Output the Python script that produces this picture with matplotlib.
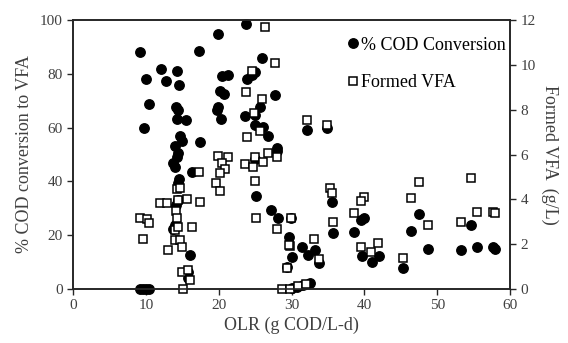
import numpy as np
import matplotlib
matplotlib.use('Agg')
from matplotlib import pyplot as plt

plt.rcParams['font.family'] = ['Liberation Serif', 'DejaVu Serif']

# % COD conversion to VFA (left axis)
olr_cod = [9.2, 17.3, 12.1, 14.3, 10.0, 12.8, 14.6, 10.4, 14.1, 14.4, 14.3, 15.5, 9.8, 14.7,
           15.0, 17.4, 14.0, 14.4, 14.3, 13.7, 14.0, 16.3, 14.6, 14.4, 14.4, 14.1, 13.7, 14.0,
           16.1, 15.8, 15.8, 9.2, 9.6, 10.0, 10.4,
           19.9, 23.8, 26.0, 20.5, 21.3, 23.9, 24.6, 25.0, 20.2, 20.7, 27.7, 19.9, 19.8, 20.3,
           23.6, 25.0, 25.7, 25.0, 26.1, 26.8, 28.0, 28.0, 25.0, 25.1, 27.2, 28.2, 29.9, 29.7,
           30.1, 29.4,
           32.1, 34.9, 35.6, 40.0, 39.6, 35.7, 38.6, 31.5, 32.3, 33.2, 33.8, 39.7, 41.1, 42.0,
           30.1, 30.8, 31.6, 32.6,
           45.3, 46.4, 47.5, 48.8, 53.3, 54.7, 55.5, 57.6, 58.0]
cod_conv = [88.1, 88.5, 81.8, 81.0, 78.1, 77.3, 75.8, 68.8, 67.7, 66.5, 63.2, 62.8, 59.9, 56.9,
            55.0, 54.6, 53.2, 50.6, 49.1, 46.8, 45.4, 43.5, 40.9, 39.4, 33.1, 31.2, 22.3, 23.8,
            12.6, 6.3, 4.1, 0, 0, 0, 0,
            94.8, 98.5, 85.9, 79.2, 79.6, 78.1, 79.6, 80.7, 73.6, 72.5, 72.1, 67.7, 66.5, 63.2,
            64.3, 64.7, 67.7, 61.0, 60.2, 56.9, 52.4, 51.3, 48.3, 34.6, 29.4, 26.4, 26.4, 19.3,
            11.9, 8.2,
            59.1, 59.9, 32.3, 26.4, 25.7, 20.8, 21.2, 15.6, 12.6, 14.5, 9.7, 12.3, 10.0, 12.3,
            0.4, 0.7, 1.5, 2.2,
            7.8, 21.6, 27.9, 14.9, 14.5, 23.8, 15.6, 15.6, 14.9]

# Formed VFA, g/L (right axis)
olr_vfa = [9.2, 10.2, 10.4, 9.6, 12.0, 12.9, 14.4, 15.7, 17.4, 14.3, 14.7, 17.3, 14.0, 14.4,
           16.3, 13.0, 14.0, 14.7, 15.0, 15.0, 15.8, 16.1, 15.1, 14.1, 14.3,
           19.9, 21.3, 20.5, 20.9, 20.2, 19.6, 20.2, 25.0, 26.8, 28.0, 26.1, 23.6, 24.7, 25.0,
           25.1, 28.0, 29.8, 29.4, 28.7, 26.4, 27.7, 24.6, 23.8, 26.0, 24.9, 23.9, 25.7,
           32.1, 34.9, 35.3, 35.6, 40.0, 39.6, 38.6, 35.7, 29.9, 29.7, 33.1, 41.9, 40.9, 39.6,
           33.8, 29.8, 30.9, 32.0,
           45.3, 46.4, 47.5, 48.8, 53.3, 54.7, 55.5, 57.6, 58.0]
vfa = [3.17, 3.13, 2.95, 2.23, 3.84, 3.84, 3.97, 4.02, 3.88, 4.46, 4.51, 5.22, 2.63, 2.77,
       2.77, 1.74, 2.19, 2.19, 1.88, 0.76, 0.85, 0.40, 0.0, 3.5, 3.17,
       5.94, 5.89, 5.63, 5.36, 5.18, 4.73, 4.38, 5.89, 6.07, 5.89, 5.67, 5.58, 5.45, 4.82,
       3.17, 2.68, 1.92, 0.94, 0.0, 11.70, 10.09, 9.73, 8.79, 8.48, 7.86, 6.79, 7.05,
       7.54, 7.32, 4.51, 4.29, 4.11, 3.93, 3.39, 2.99, 3.17, 1.96, 2.23, 2.05, 1.65, 1.88,
       1.34, 0.0, 0.13, 0.22,
       1.38, 4.06, 4.78, 2.86, 2.99, 4.96, 3.44, 3.44, 3.39]

grey = '#404040'

fig = plt.figure(figsize=(5.68, 3.43), dpi=100)
ax1 = fig.add_axes([0.1285, 0.1574, 0.7695, 0.7843])
ax2 = ax1.twinx()

h1, = ax1.plot(olr_cod, cod_conv, 'o', color='black', markersize=6.8, clip_on=False,
               label='% COD Conversion')
h2, = ax2.plot(olr_vfa, vfa, 's', markerfacecolor='white', markeredgecolor='black',
               markersize=6.3, markeredgewidth=1.1, clip_on=False, label='Formed VFA')

ax1.set_xlim(0, 60)
ax1.set_ylim(0, 100)
ax2.set_ylim(0, 12)
ax1.set_xticks(np.arange(0, 61, 10))
ax1.set_yticks(np.arange(0, 101, 20))
ax2.set_yticks(np.arange(0, 13, 2))

for ax in (ax1, ax2):
    for s in ax.spines.values():
        s.set_color('#262626')
        s.set_linewidth(1.2)
    ax.tick_params(colors='#262626', labelcolor=grey, labelsize=11, length=4, width=1)

ax1.set_xlabel('OLR (g COD/L-d)', fontsize=13, color=grey, labelpad=3)
ax1.set_ylabel('% COD conversion to VFA', fontsize=13, color=grey, labelpad=5)
ax2.set_ylabel('Formed VFA  (g/L)', fontsize=13, color=grey, rotation=270, labelpad=16)

ax2.legend([h1, h2], ['% COD Conversion', 'Formed VFA'], loc='upper left', frameon=False,
           fontsize=13, handletextpad=0.05, handlelength=0.8, labelspacing=1.15,
           borderaxespad=0, bbox_to_anchor=(0.608, 0.965))

fig.savefig('out.png', dpi=100)
